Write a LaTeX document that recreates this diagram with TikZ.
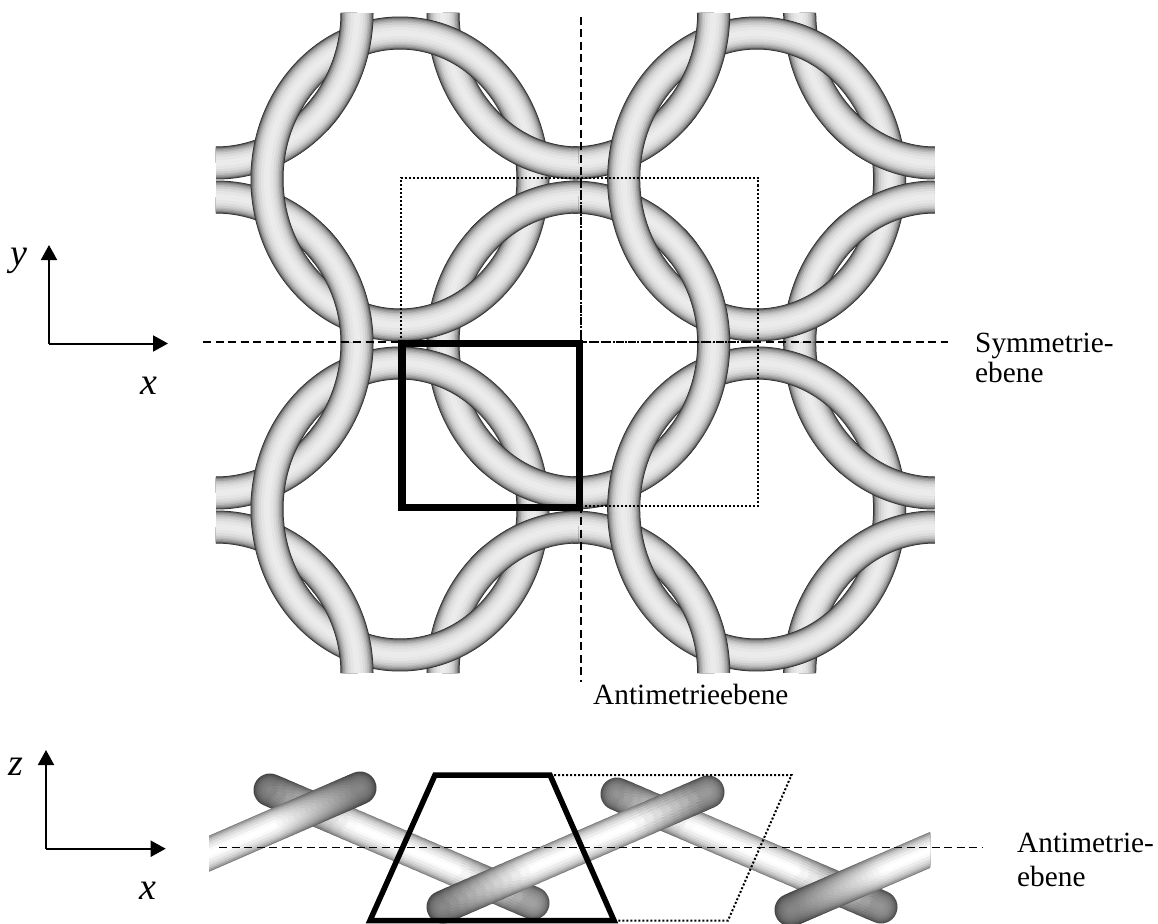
\documentclass[tikz,border=0pt]{standalone}
\usepackage{fontspec}
\setmainfont{Liberation Serif}
\usetikzlibrary{arrows.meta}
\tikzset{
  x=1pt,y=-1pt,
  tubeline/.style={line cap=butt,line join=round},
  rodline/.style={line cap=round},
  symline/.style={line width=1.6pt,dash pattern=on 8pt off 4.5pt},
  dotline/.style={line width=2pt,dash pattern=on 2pt off 2pt},
  heavybox/.style={line width=7.5pt,line join=miter},
  heavytrap/.style={line width=5.5pt,line join=miter},
  axisline/.style={line width=2pt,-{Triangle[length=15pt,width=16pt]}},
  lab/.style={inner sep=0pt,anchor=base west,font=\fontsize{29.3}{30}\selectfont},
  axlab/.style={inner sep=0pt,anchor=base west,font=\fontsize{38}{40}\selectfont\itshape}
}
\def\tubeprofile{33/85/0,32/70/.5,30.5/56/1,29/45/1.5,27/36/2,24/27/2.5,21/20/3,17/14/3.5,12/10/4,6/8/4.5}
\newcommand\qtube[8]{% cx cy rx ry from to extend-from extend-to
  \foreach \w/\k/\ex in \tubeprofile {
    \pgfmathsetmacro\da{#5-#7*\ex}
    \pgfmathsetmacro\db{#6+#8*\ex}
    \draw[tubeline,line width=\w pt,draw=black!\k]
      plot[domain=\da:\db,samples=30,smooth,variable=\t] ({#1+#3*cos(\t)},{#2+#4*sin(\t)});
  }}
\newcommand\ringtube{%
  \foreach \w/\k/\ex in \tubeprofile {
    \draw[tubeline,line width=\w pt,draw=black!\k]
      plot[domain=0:356,samples=90,smooth,variable=\t] ({400+133*cos(\t)},{179+146*sin(\t)}) -- cycle;
  }}
\newcommand\tilegroup[2]{% dx dy: layered below
  \begin{scope}[shift={(#1,#2)}]\csname layer\currentlayer\endcsname\end{scope}}
\newcommand\layerunder{%
  \qtube{216}{13}{141}{150}{38}{90}{0}{0}%
  \qtube{216}{343}{141}{146}{-90}{-38}{0}{0}%
  \qtube{578}{13}{135}{150}{128}{180}{0}{0}%
  \qtube{578}{343}{135}{146}{180}{232}{0}{0}}
\newcommand\layerring{\ringtube}
\newcommand\layerover{%
  \qtube{216}{13}{141}{150}{0}{45}{0}{1}%
  \qtube{216}{343}{141}{146}{-45}{0}{1}{0}%
  \qtube{578}{13}{135}{150}{90}{135}{0}{1}%
  \qtube{578}{343}{135}{146}{225}{270}{1}{0}}
\newcommand\alltiles[1]{%
  \def\currentlayer{#1}%
  \tilegroup{0}{0}\tilegroup{356.7}{0}\tilegroup{0}{330}\tilegroup{356.7}{330}}
\def\rodprofile{33/.5,31/.62,28/.72,25/.8,21/.87,16/.93,10/.98,5/1.0}
\newcommand\rod[4]{%
  \foreach \w/\f in \rodprofile {
    \foreach \i in {0,...,29} {
      \pgfmathsetmacro\ya{#2+(#4-#2)*\i/30}
      \pgfmathsetmacro\yb{#2+(#4-#2)*(\i+1)/30}
      \pgfmathsetmacro\xa{#1+(#3-#1)*\i/30}
      \pgfmathsetmacro\xb{#1+(#3-#1)*(\i+1)/30}
      \pgfmathsetmacro\g{max(.52,min(1,min(.52+(\ya-790)/35*.48,.52+(908-\ya)/38*.48)))}
      \pgfmathsetmacro\p{100*(1-\g*\f)}
      \draw[rodline,line width=\w pt,draw=black!\p] (\xa,\ya) -- (\xb,\yb);
    }
  }}
\begin{document}
\begin{tikzpicture}
\useasboundingbox (0,0) rectangle (1158,923);
% woven mesh, top view
\alltiles{under}
\alltiles{ring}
\alltiles{over}
% planes, top view
\coordinate (symL) at (203,342);
\coordinate (symR) at (948,342);
\coordinate (antT) at (581,17);
\coordinate (antB) at (581,682);
\draw[symline] (symL) -- (symR);
\draw[symline] (antT) -- (antB);
\coordinate (dA) at (400.5,178);
\coordinate (dB) at (758,178);
\coordinate (dC) at (758,505.5);
\coordinate (dD) at (581,505.5);
\coordinate (dE) at (758,342);
\coordinate (dF) at (581,178);
\coordinate (dG) at (581,342);
\coordinate (dH) at (400.5,342);
\draw[dotline] (dH) -- (dA) -- (dB) -- (dC) -- (dD);
\draw[dotline] (dG) -- (dE);
\draw[dotline] (dF) -- (dG);
\coordinate (bA) at (402,343.5);
\coordinate (bB) at (579.5,343.5);
\coordinate (bC) at (579.5,507.5);
\coordinate (bD) at (402,507.5);
\draw[heavybox] (bA) -- (bB) -- (bC) -- (bD) -- cycle;
% rods, side view
\begin{scope}
\clip (209,700) rectangle (930,923);
\rod{270}{790}{533}{903}
\rod{617}{794}{881}{907}
\rod{360}{788}{190}{862}
\rod{443}{907}{708}{792}
\rod{791}{910}{960}{837}
\end{scope}
\coordinate (lsL) at (219,847.5);
\coordinate (lsR) at (983,847.5);
\draw[symline] (lsL) -- (lsR);
\coordinate (tA) at (370,920.5);
\coordinate (tB) at (435,775);
\coordinate (tC) at (550,775);
\coordinate (tD) at (614,920.5);
\coordinate (pB) at (791.5,775);
\coordinate (pC) at (728,920.5);
\draw[dotline] (tC) -- (pB) -- (pC) -- (tD);
\draw[heavytrap] (tA) -- (tB) -- (tC) -- (tD) -- cycle;
% axes
\coordinate (oU) at (49,343.5);
\coordinate (yU) at (49,245);
\coordinate (xU) at (168,343.5);
\draw[axisline] (oU) -- (yU);
\draw[axisline] (oU) -- (xU);
\coordinate (oL) at (46,848.7);
\coordinate (zL) at (46,750);
\coordinate (xL) at (165.7,848.7);
\draw[axisline] (oL) -- (zL);
\draw[axisline] (oL) -- (xL);
% labels
\node[axlab] (ly) at (10,265) {y};
\node[axlab] (lx) at (140,394) {x};
\node[axlab] (lz) at (8,775) {z};
\node[axlab] (lxb) at (139,899) {x};
\node[lab] (tsym) at (975,352) {Symmetrie-};
\node[lab] (tsyme) at (975,382) {ebene};
\node[lab] (tant) at (593,704) {Antimetrieebene};
\node[lab] (tanl) at (1017,852) {Antimetrie-};
\node[lab] (tane) at (1017,886) {ebene};
\end{tikzpicture}
\end{document}
